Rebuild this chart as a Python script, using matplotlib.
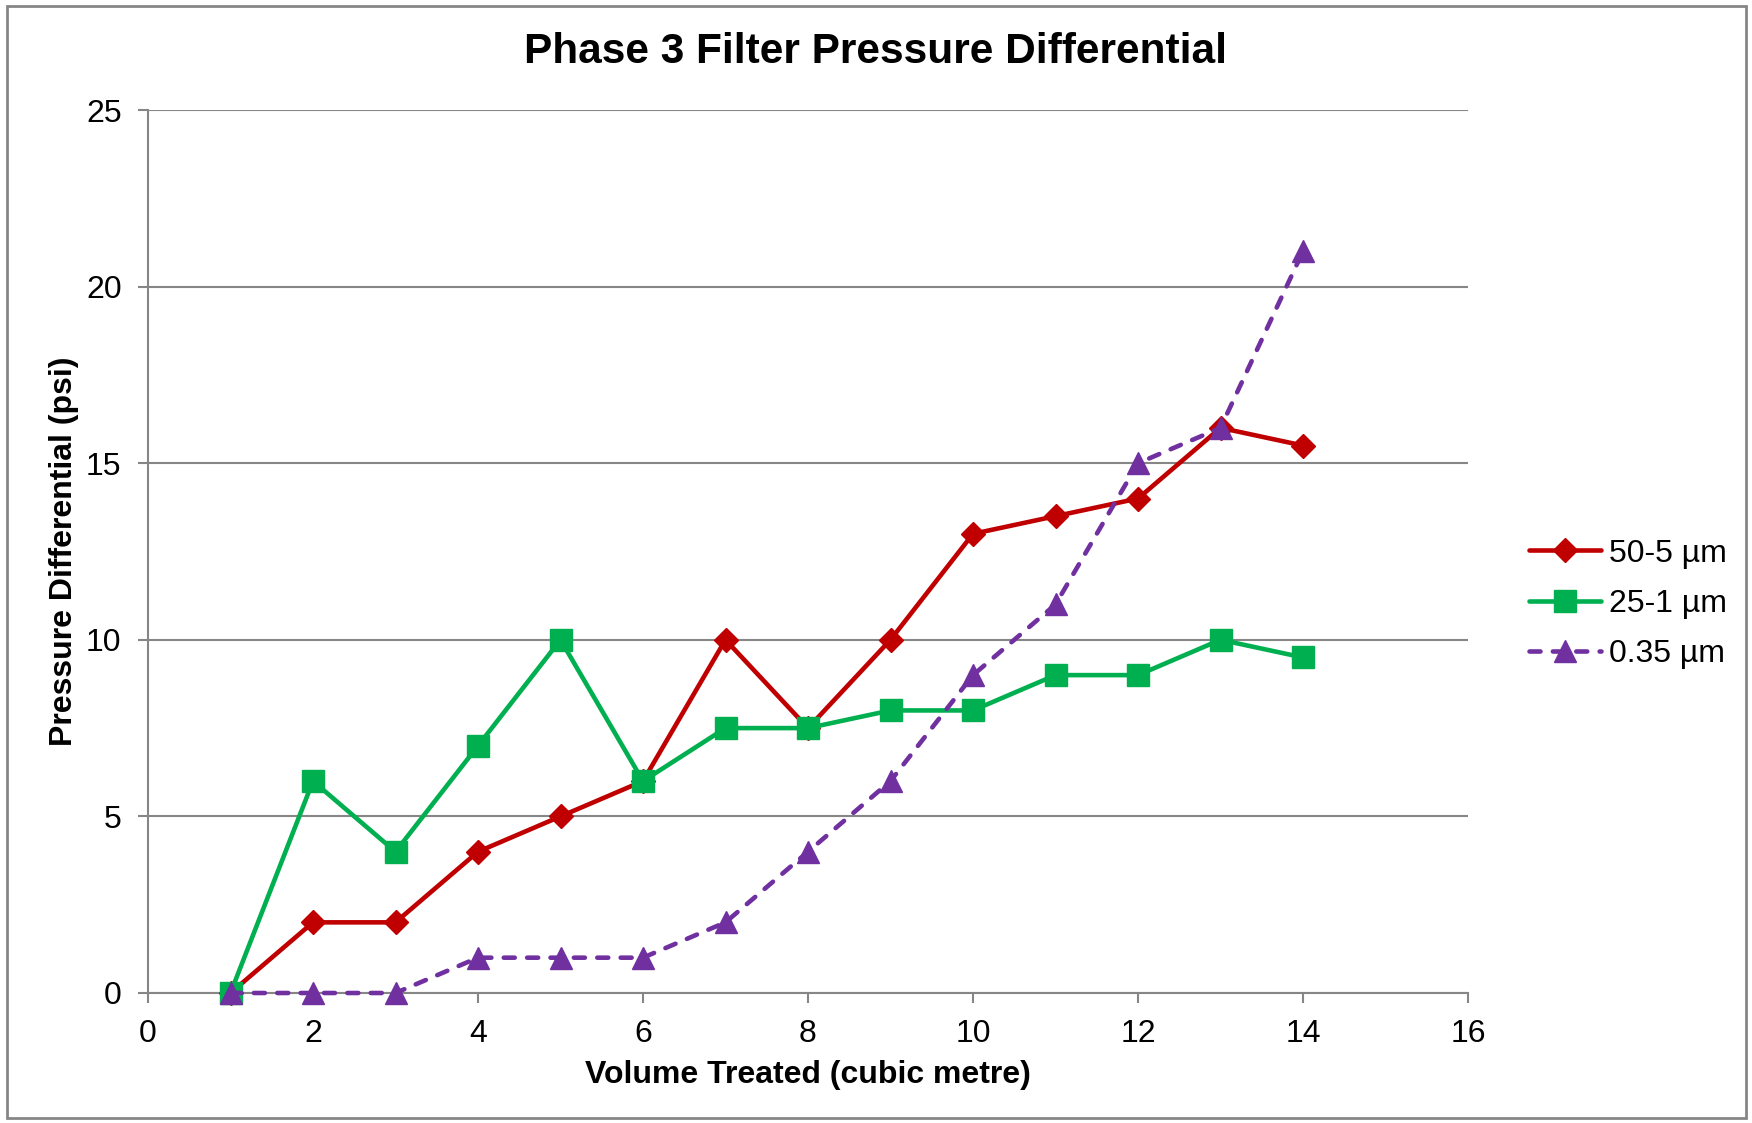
"""Phase 3 filter pressure differential against treated volume."""

import matplotlib.pyplot as plt
from matplotlib.patches import Rectangle

plt.rcParams["font.family"] = ["Liberation Sans", "DejaVu Sans"]

volume = [1, 2, 3, 4, 5, 6, 7, 8, 9, 10, 11, 12, 13, 14]
dp_50_5 = [0, 2, 2, 4, 5, 6, 10, 7.5, 10, 13, 13.5, 14, 16, 15.5]
dp_25_1 = [0, 6, 4, 7, 10, 6, 7.5, 7.5, 8, 8, 9, 9, 10, 9.5]
dp_035 = [0, 0, 0, 1, 1, 1, 2, 4, 6, 9, 11, 15, 16, 21]
series_labels = ["50-5 µm", "25-1 µm", "0.35 µm"]

x_ticks = [0, 2, 4, 6, 8, 10, 12, 14, 16]
y_ticks = [0, 5, 10, 15, 20, 25]

grey = "#868686"

fig = plt.figure(figsize=(17.52, 11.23), dpi=100)
ax = fig.add_axes([148 / 1752, 1 - 993 / 1123, 1320 / 1752, 883 / 1123])

common = dict(lw=3.3, clip_on=False, solid_joinstyle="round", solid_capstyle="round")
ax.plot(volume, dp_50_5, color="#C00000", marker="D", ms=12, mec="#C00000",
        label=series_labels[0], zorder=3, **common)
ax.plot(volume, dp_25_1, color="#00B050", marker="s", ms=16, mec="#00B050",
        label=series_labels[1], zorder=3, **common)
ax.plot(volume, dp_035, color="#7030A0", ls=(0, (2.4, 2.7)), dash_capstyle="round",
        marker="^", ms=16.5, mec="#7030A0", label=series_labels[2], zorder=4, **common)

ax.set_xlim(0, 16)
ax.set_ylim(0, 25)
ax.set_xticks(x_ticks)
ax.set_yticks(y_ticks)
ax.grid(axis="y", color=grey, lw=1.5)
ax.set_axisbelow(True)
for side in ("top", "right"):
    ax.spines[side].set_visible(False)
for side in ("left", "bottom"):
    ax.spines[side].set_color(grey)
    ax.spines[side].set_linewidth(1.5)
ax.tick_params(colors=grey, labelcolor="black", labelsize=23, length=7, width=1.5, pad=12)

ax.set_xlabel("Volume Treated (cubic metre)", fontsize=23, fontweight="bold", labelpad=8)
ax.set_ylabel("Pressure Differential (psi)", fontsize=23, fontweight="bold", labelpad=5)
fig.text(0.5, 1 - 52 / 1123, "Phase 3 Filter Pressure Differential",
         ha="center", va="center", fontsize=30.5, fontweight="bold")

fig.legend(loc="center left", bbox_to_anchor=(1500 / 1752, 1 - 604 / 1123), frameon=False,
           fontsize=23, handlelength=2.25, labelspacing=0.64, handletextpad=0.25)

fig.patches.append(Rectangle((7 / 1752, 5 / 1123), 1739 / 1752, 1112 / 1123,
                             transform=fig.transFigure, fill=False, ec=grey, lw=2))

fig.savefig("out.png", dpi=100)
